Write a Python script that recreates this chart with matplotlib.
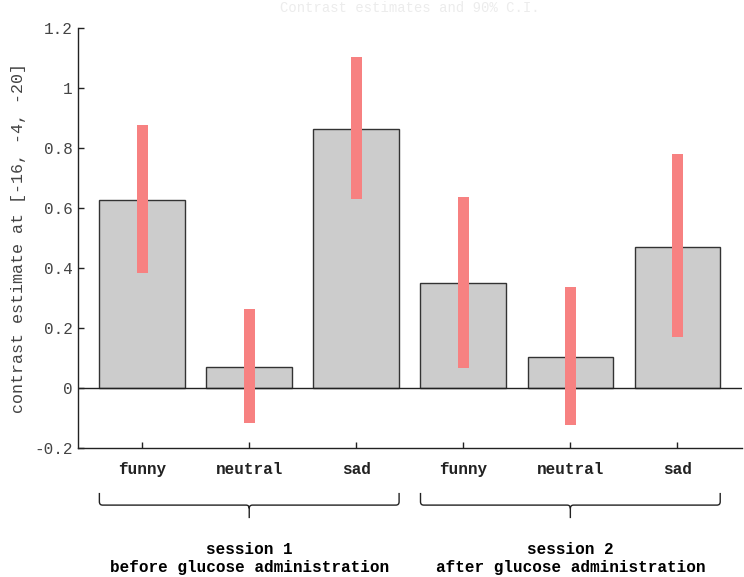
import matplotlib.pyplot as plt
import matplotlib.transforms as mtransforms
from matplotlib.path import Path
from matplotlib.patches import PathPatch
import numpy as np

# values
conditions = ['funny', 'neutral', 'sad', 'funny', 'neutral', 'sad']
estimates = [0.625, 0.070, 0.862, 0.351, 0.104, 0.471]
ci_low = [0.383, -0.117, 0.630, 0.067, -0.123, 0.170]
ci_high = [0.877, 0.263, 1.103, 0.636, 0.338, 0.779]
sessions = ['session 1\nbefore glucose administration',
            'session 2\nafter glucose administration']
session_groups = [(0, 3), (3, 6)]
yticks = [-0.2, 0, 0.2, 0.4, 0.6, 0.8, 1, 1.2]
ytick_labels = ['-0.2', '0', '0.2', '0.4', '0.6', '0.8', '1', '1.2']

mono = ['Liberation Mono', 'DejaVu Sans Mono']

fig = plt.figure(figsize=(7.44, 5.77), dpi=100)
fig.set_facecolor('white')
ax = fig.add_axes([0.1048, 0.2236, 0.892, 0.7279])

x = np.arange(1, len(conditions) + 1)
bar_w = 0.8

ax.bar(x, estimates, width=bar_w, color='#cccccc', edgecolor='#333333',
       linewidth=1.0, zorder=2)
ax.axhline(0, color='#222222', linewidth=1.0, zorder=3)
ax.bar(x, np.array(ci_high) - np.array(ci_low), bottom=ci_low, width=0.1,
       color='#f78181', linewidth=0, zorder=4)

ax.set_xlim(0.4, 6.6)
ax.set_ylim(-0.2, 1.2)
ax.set_yticks(yticks)
ax.set_yticklabels(ytick_labels, family=mono, fontsize=11.5, color='#444444')
ax.set_xticks(x)
ax.set_xticklabels(conditions, family=mono, fontsize=11.5, fontweight='bold')
ax.tick_params(axis='both', direction='in', length=4, width=1, colors='#222222')
ax.tick_params(axis='x', pad=10)
ax.tick_params(axis='y', pad=4)
for lab in ax.get_yticklabels():
    lab.set_color('#444444')

for s in ['top', 'right']:
    ax.spines[s].set_visible(False)
for s in ['left', 'bottom']:
    ax.spines[s].set_linewidth(1.0)
    ax.spines[s].set_color('#222222')

ax.set_ylabel('contrast estimate at [-16, -4, -20]', family=mono,
              fontsize=12, color='#444444', labelpad=6)

# faint title at the very top
fig.text(0.551, 0.999, 'Contrast estimates and 90% C.I.', family=mono,
         fontsize=10, color='#ececec', ha='center', va='top')

# curly braces under each session
trans = mtransforms.blended_transform_factory(ax.transData, ax.transAxes)
y_end, y_mid, y_tip = -0.107, -0.136, -0.167
r = 0.03
for (i0, i1), label in zip(session_groups, sessions):
    x0 = x[i0] - bar_w / 2
    x1 = x[i1 - 1] + bar_w / 2
    xc = (x0 + x1) / 2
    verts = [(x0, y_end), (x0, y_mid + 0.008), (x0, y_mid), (x0 + r, y_mid),
             (xc - r, y_mid), (xc, y_mid), (xc, y_mid - 0.008), (xc, y_tip),
             (xc, y_mid - 0.008), (xc, y_mid), (xc + r, y_mid),
             (x1 - r, y_mid), (x1, y_mid), (x1, y_mid + 0.008), (x1, y_end)]
    codes = [Path.MOVETO, Path.LINETO, Path.CURVE3, Path.CURVE3,
             Path.LINETO, Path.CURVE3, Path.CURVE3, Path.LINETO,
             Path.MOVETO, Path.CURVE3, Path.CURVE3,
             Path.LINETO, Path.CURVE3, Path.CURVE3, Path.LINETO]
    ax.add_patch(PathPatch(Path(verts, codes), transform=trans, fill=False,
                           edgecolor='#222222', linewidth=1.0, clip_on=False))
    ax.text(xc, -0.262, label, transform=trans, ha='center', va='center',
            family=mono, fontsize=11.5, fontweight='bold', linespacing=1.25)

fig.savefig('out.png', dpi=100)
